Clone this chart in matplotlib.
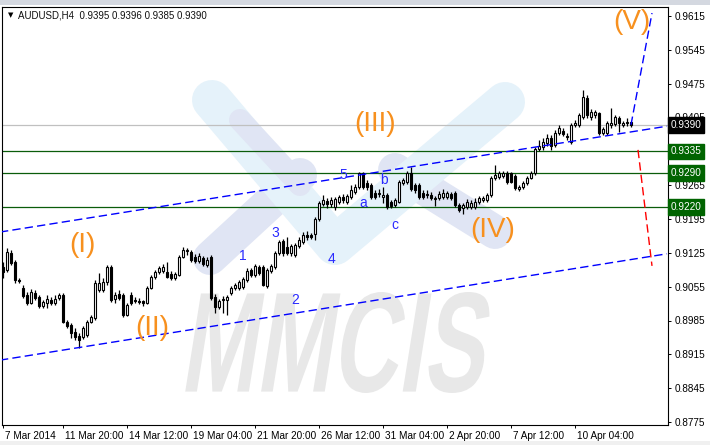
import matplotlib
matplotlib.use('Agg')
import matplotlib.pyplot as plt
import matplotlib.transforms as mtransforms
from matplotlib.patches import Rectangle, PathPatch
from matplotlib.path import Path
from matplotlib.textpath import TextPath
from matplotlib.font_manager import FontProperties
from matplotlib.lines import Line2D
import numpy as np

plt.rcParams['font.family'] = ['Liberation Sans', 'DejaVu Sans']

# AUDUSD H4 candles (bar 0 = 7 Mar 2014 08:00)
opens = [
    0.9095, 0.9089, 0.9124, 0.9106, 0.9069, 0.9052, 0.9037, 0.9021, 0.9041, 0.9033,
    0.9015, 0.9021, 0.9027, 0.9021, 0.9031, 0.9037, 0.8981, 0.8975, 0.8961, 0.8952,
    0.8950, 0.8955, 0.8981, 0.8990, 0.9048, 0.9048, 0.9064, 0.9095, 0.9029, 0.9039,
    0.9037, 0.8996, 0.9037, 0.9027, 0.9025, 0.9025, 0.9021, 0.9052, 0.9075, 0.9085,
    0.9087, 0.9085, 0.9081, 0.9073, 0.9079, 0.9116, 0.9128, 0.9126, 0.9116, 0.9108,
    0.9114, 0.9099, 0.9116, 0.9033, 0.9013, 0.9027, 0.9027, 0.9041, 0.9052, 0.9052,
    0.9054, 0.9069, 0.9089, 0.9079, 0.9095, 0.9095, 0.9056, 0.9087, 0.9095, 0.9124,
    0.9149, 0.9137, 0.9124, 0.9120, 0.9139, 0.9147, 0.9162, 0.9162, 0.9164, 0.9195,
    0.9226, 0.9232, 0.9226, 0.9220, 0.9230, 0.9240, 0.9230, 0.9240, 0.9251, 0.9261,
    0.9290, 0.9269, 0.9265, 0.9248, 0.9246, 0.9240, 0.9244, 0.9230, 0.9224, 0.9230,
    0.9269, 0.9271, 0.9290, 0.9265, 0.9265, 0.9248, 0.9246, 0.9244, 0.9236, 0.9238,
    0.9240, 0.9240, 0.9246, 0.9248, 0.9224, 0.9217, 0.9220, 0.9220, 0.9220, 0.9230,
    0.9234, 0.9234, 0.9244, 0.9280, 0.9282, 0.9284, 0.9290, 0.9290, 0.9284, 0.9257,
    0.9261, 0.9269, 0.9280, 0.9290, 0.9340, 0.9344, 0.9352, 0.9362, 0.9348, 0.9373,
    0.9377, 0.9366, 0.9354, 0.9389, 0.9389, 0.9406, 0.9445, 0.9406, 0.9410, 0.9414,
    0.9373, 0.9373, 0.9389, 0.9391, 0.9404, 0.9389, 0.9395, 0.9395,
]
highs = [
    0.9106, 0.9135, 0.9131, 0.9110, 0.9073, 0.9058, 0.9044, 0.9050, 0.9048, 0.9037,
    0.9027, 0.9037, 0.9033, 0.9037, 0.9041, 0.9041, 0.8986, 0.8979, 0.8969, 0.8959,
    0.8973, 0.8986, 0.8996, 0.9069, 0.9083, 0.9073, 0.9099, 0.9099, 0.9044, 0.9048,
    0.9041, 0.9021, 0.9044, 0.9033, 0.9031, 0.9027, 0.9056, 0.9079, 0.9089, 0.9097,
    0.9102, 0.9106, 0.9087, 0.9085, 0.9120, 0.9137, 0.9135, 0.9131, 0.9122, 0.9124,
    0.9118, 0.9116, 0.9120, 0.9039, 0.9029, 0.9035, 0.9037, 0.9056, 0.9062, 0.9069,
    0.9075, 0.9093, 0.9093, 0.9102, 0.9099, 0.9099, 0.9093, 0.9102, 0.9128, 0.9151,
    0.9153, 0.9157, 0.9143, 0.9145, 0.9157, 0.9168, 0.9170, 0.9166, 0.9199, 0.9232,
    0.9244, 0.9238, 0.9240, 0.9240, 0.9244, 0.9246, 0.9246, 0.9265, 0.9267, 0.9292,
    0.9292, 0.9275, 0.9269, 0.9255, 0.9257, 0.9261, 0.9248, 0.9234, 0.9238, 0.9275,
    0.9280, 0.9294, 0.9302, 0.9269, 0.9269, 0.9255, 0.9255, 0.9251, 0.9242, 0.9253,
    0.9257, 0.9253, 0.9251, 0.9253, 0.9228, 0.9228, 0.9236, 0.9234, 0.9238, 0.9242,
    0.9242, 0.9248, 0.9284, 0.9306, 0.9294, 0.9294, 0.9294, 0.9292, 0.9288, 0.9265,
    0.9273, 0.9284, 0.9294, 0.9344, 0.9358, 0.9362, 0.9371, 0.9369, 0.9379, 0.9389,
    0.9383, 0.9373, 0.9393, 0.9400, 0.9414, 0.9462, 0.9451, 0.9422, 0.9420, 0.9416,
    0.9385, 0.9397, 0.9424, 0.9410, 0.9408, 0.9397, 0.9404, 0.9396,
]
lows = [
    0.9073, 0.9085, 0.9099, 0.9062, 0.9062, 0.9031, 0.9017, 0.9019, 0.9027, 0.9011,
    0.9011, 0.9011, 0.9017, 0.9017, 0.9027, 0.8979, 0.8969, 0.8948, 0.8944, 0.8928,
    0.8946, 0.8950, 0.8979, 0.8986, 0.9044, 0.9044, 0.9058, 0.9023, 0.9021, 0.9027,
    0.8992, 0.8994, 0.9017, 0.9021, 0.9019, 0.9015, 0.9019, 0.9050, 0.9071, 0.9081,
    0.9083, 0.9073, 0.9069, 0.9069, 0.9077, 0.9114, 0.9120, 0.9106, 0.9104, 0.9104,
    0.9097, 0.9095, 0.9027, 0.9000, 0.9009, 0.9000, 0.8996, 0.9037, 0.9048, 0.9048,
    0.9050, 0.9064, 0.9075, 0.9075, 0.9079, 0.9056, 0.9052, 0.9083, 0.9091, 0.9120,
    0.9118, 0.9120, 0.9118, 0.9116, 0.9135, 0.9143, 0.9151, 0.9153, 0.9151, 0.9191,
    0.9222, 0.9217, 0.9220, 0.9213, 0.9226, 0.9228, 0.9226, 0.9236, 0.9246, 0.9257,
    0.9257, 0.9255, 0.9236, 0.9236, 0.9240, 0.9228, 0.9215, 0.9217, 0.9220, 0.9228,
    0.9265, 0.9267, 0.9253, 0.9248, 0.9236, 0.9236, 0.9238, 0.9234, 0.9222, 0.9234,
    0.9236, 0.9236, 0.9234, 0.9220, 0.9209, 0.9205, 0.9215, 0.9215, 0.9215, 0.9226,
    0.9230, 0.9230, 0.9240, 0.9275, 0.9278, 0.9280, 0.9267, 0.9269, 0.9255, 0.9253,
    0.9257, 0.9265, 0.9278, 0.9286, 0.9335, 0.9338, 0.9346, 0.9338, 0.9344, 0.9369,
    0.9367, 0.9358, 0.9350, 0.9385, 0.9385, 0.9402, 0.9404, 0.9400, 0.9404, 0.9369,
    0.9369, 0.9369, 0.9383, 0.9387, 0.9375, 0.9385, 0.9387, 0.9385,
]
closes = [
    0.9085, 0.9126, 0.9104, 0.9069, 0.9067, 0.9035, 0.9021, 0.9044, 0.9031, 0.9015,
    0.9023, 0.9029, 0.9021, 0.9029, 0.9037, 0.8981, 0.8973, 0.8959, 0.8950, 0.8944,
    0.8969, 0.8981, 0.8992, 0.9062, 0.9062, 0.9064, 0.9095, 0.9027, 0.9037, 0.9031,
    0.8996, 0.9017, 0.9021, 0.9025, 0.9023, 0.9021, 0.9052, 0.9075, 0.9085, 0.9093,
    0.9095, 0.9075, 0.9073, 0.9081, 0.9116, 0.9131, 0.9131, 0.9110, 0.9108, 0.9118,
    0.9102, 0.9110, 0.9031, 0.9013, 0.9025, 0.9029, 0.9033, 0.9052, 0.9058, 0.9064,
    0.9071, 0.9087, 0.9079, 0.9097, 0.9083, 0.9058, 0.9089, 0.9097, 0.9124, 0.9147,
    0.9124, 0.9124, 0.9139, 0.9141, 0.9151, 0.9162, 0.9157, 0.9157, 0.9195, 0.9228,
    0.9234, 0.9226, 0.9234, 0.9236, 0.9240, 0.9234, 0.9242, 0.9255, 0.9261, 0.9290,
    0.9261, 0.9261, 0.9240, 0.9240, 0.9248, 0.9244, 0.9220, 0.9222, 0.9234, 0.9271,
    0.9275, 0.9290, 0.9257, 0.9255, 0.9240, 0.9240, 0.9244, 0.9238, 0.9238, 0.9246,
    0.9248, 0.9248, 0.9238, 0.9224, 0.9213, 0.9224, 0.9230, 0.9228, 0.9230, 0.9238,
    0.9238, 0.9244, 0.9280, 0.9286, 0.9290, 0.9290, 0.9271, 0.9271, 0.9259, 0.9261,
    0.9269, 0.9280, 0.9290, 0.9340, 0.9346, 0.9354, 0.9362, 0.9346, 0.9373, 0.9383,
    0.9371, 0.9364, 0.9389, 0.9393, 0.9410, 0.9447, 0.9410, 0.9416, 0.9416, 0.9373,
    0.9381, 0.9393, 0.9393, 0.9406, 0.9393, 0.9393, 0.9393, 0.9390,
]

time_idx = [0, 15, 31, 47, 63, 79, 95, 111, 127, 143]
time_labels = ['7 Mar 2014', '11 Mar 20:00', '14 Mar 12:00', '19 Mar 04:00',
               '21 Mar 20:00', '26 Mar 12:00', '31 Mar 04:00', '2 Apr 20:00',
               '7 Apr 12:00', '10 Apr 04:00']
price_ticks = [0.8775, 0.8845, 0.8915, 0.8985, 0.9055, 0.9125, 0.9195,
               0.9265, 0.9335, 0.9405, 0.9475, 0.9545, 0.9615]

bid = 0.9390
levels = [0.9335, 0.9290, 0.9220]

# channel lines and projections (bar index, price)
upper_ch_x, upper_ch_y = [-0.75, 166.0], [0.9168, 0.9387]
lower_ch_x, lower_ch_y = [-0.75, 166.0], [0.8903, 0.9123]
up_proj_x, up_proj_y = [157, 162.25], [0.9390, 0.9621]
dn_proj_x, dn_proj_y = [158.75, 162.25], [0.9338, 0.9098]

major_waves = [('(I)', 19.75, 0.9141), ('(II)', 37.25, 0.8970), ('(III)', 93.0, 0.9392),
               ('(IV)', 122.5, 0.9172), ('(V)', 157.25, 0.9603)]
minor_waves = [('1', 60.0, 0.9118), ('2', 73.0, 0.9027), ('3', 68.0, 0.9166),
               ('4', 82.0, 0.9112), ('5', 85.0, 0.9286), ('a', 90.0, 0.9228),
               ('b', 95.25, 0.9276), ('c', 98.0, 0.9183)]

W, H = 710, 445
fig = plt.figure(figsize=(W / 100, H / 100), dpi=100)
fig.patch.set_facecolor('white')
ax = fig.add_axes([2 / W, 20 / H, 666 / W, 418 / H])
ax.set_facecolor('white')

# pixel coordinates (top-left origin) for the decorations
px = mtransforms.Affine2D().scale(1 / W, -1 / H).translate(0, 1) + fig.transFigure

# watermark logo
light_blue = '#e5f2fa'
lavender = '#e0e5f4'
strokes = [
    (lavender, [(210, 258), (300, 175)], 34),
    (lavender, [(395, 170), (495, 232)], 34),
    (light_blue, [(212, 100), (335, 245), (505, 102)], 40),
    (lavender, [(240, 120), (300, 185)], 22),
]
for col, pts, wpx in strokes:
    xs, ys = zip(*pts)
    ln = Line2D(xs, ys, color=col, lw=wpx * 0.72, solid_capstyle='round',
                solid_joinstyle='round', transform=px, zorder=0.5)
    ax.add_artist(ln)

# watermark text
tp = TextPath((0, 0), 'MMCIS', size=1, prop=FontProperties(family='Liberation Sans', weight='bold'))
ext = tp.get_extents()
k = 0.16
sy = 101 / ext.height
sx = (310 - k * 101) / ext.width
v = tp.vertices
nv = np.column_stack([185 + sx * (v[:, 0] - ext.x0) + k * sy * (v[:, 1] - ext.y0),
                      393 - sy * (v[:, 1] - ext.y0)])
ax.add_artist(PathPatch(Path(nv, tp.codes), fc='#e8e8e8', ec='none', transform=px, zorder=0.6))

# horizontal levels
ax.axhline(bid, color='#c0c0c0', lw=0.9, zorder=1)
for lv in levels:
    ax.axhline(lv, color='#0a5c0a', lw=0.9, zorder=1)

# channel and projections
dash = (0, (6, 3))
ax.plot(upper_ch_x, upper_ch_y, color='#0000ff', lw=1.0, ls=dash, zorder=4)
ax.plot(lower_ch_x, lower_ch_y, color='#0000ff', lw=1.0, ls=dash, zorder=4)
ax.plot(up_proj_x, up_proj_y, color='#0000ff', lw=1.0, ls=dash, zorder=4)
ax.plot(dn_proj_x, dn_proj_y, color='#ff0000', lw=1.0, ls=dash, zorder=4)

# candles
for i in range(len(closes)):
    o, h, l, c = opens[i], highs[i], lows[i], closes[i]
    ax.vlines(i, l, h, color='black', lw=0.9, zorder=2)
    body = max(abs(c - o), 0.00003)
    face = 'white' if c >= o else 'black'
    ax.add_patch(Rectangle((i - 0.34, min(o, c)), 0.68, body, fc=face, ec='black',
                           lw=0.8, zorder=3))

# wave labels
for txt, xi, yv in major_waves:
    ax.text(xi, yv, txt, color='#f7901e', fontsize=20, ha='center', va='center', zorder=5)
for txt, xi, yv in minor_waves:
    ax.text(xi, yv, txt, color='#2a2aff', fontsize=10, ha='center', va='center', zorder=5)

ax.set_xlim(-0.25, 166.25)
ax.set_ylim(0.87688, 0.96336)

for s in ax.spines.values():
    s.set_color('black')
    s.set_linewidth(0.8)

# the 0.9335 scale label sits under its level box, which carries the same text
ax.yaxis.tick_right()
ax.set_yticks(price_ticks)
ax.set_yticklabels(['' if p in levels else '%.4f' % p for p in price_ticks])
ax.set_xticks(time_idx)
ax.set_xticklabels(time_labels)
ax.tick_params(axis='both', direction='out', length=2.5, width=0.7, labelsize=7.2,
               colors='black', pad=2)
offset = mtransforms.ScaledTranslation(2 / 100, 0, fig.dpi_scale_trans)
for lab in ax.get_xticklabels():
    lab.set_ha('left')
    lab.set_transform(lab.get_transform() + offset)

# price boxes on the right scale
box_tr = mtransforms.blended_transform_factory(ax.transAxes, ax.transData)
for val, fc in [(bid, 'black')] + [(lv, '#006400') for lv in levels]:
    ax.text(1.004, val, '%.4f' % val, transform=box_tr, ha='left', va='center',
            color='white', fontsize=7.2, clip_on=False, zorder=6,
            bbox=dict(boxstyle='square,pad=0.28', fc=fc, ec=fc))

# header and window frame bits
fig.add_artist(Rectangle((0, 0), W, 5, transform=px, fc='#d4d8e0', ec='none'))
fig.add_artist(Rectangle((0, 441), W, 4, transform=px, fc='#f0f0f0', ec='none'))
fig.text(10.5, 15, '\u25bc', transform=px, fontsize=5, family='DejaVu Sans',
         ha='center', va='center', color='black')
fig.text(18, 15, 'AUDUSD,H4  0.9395 0.9396 0.9385 0.9390', transform=px,
         fontsize=7, ha='left', va='center', color='#101010')

fig.savefig('out.png', dpi=100, facecolor='white')
